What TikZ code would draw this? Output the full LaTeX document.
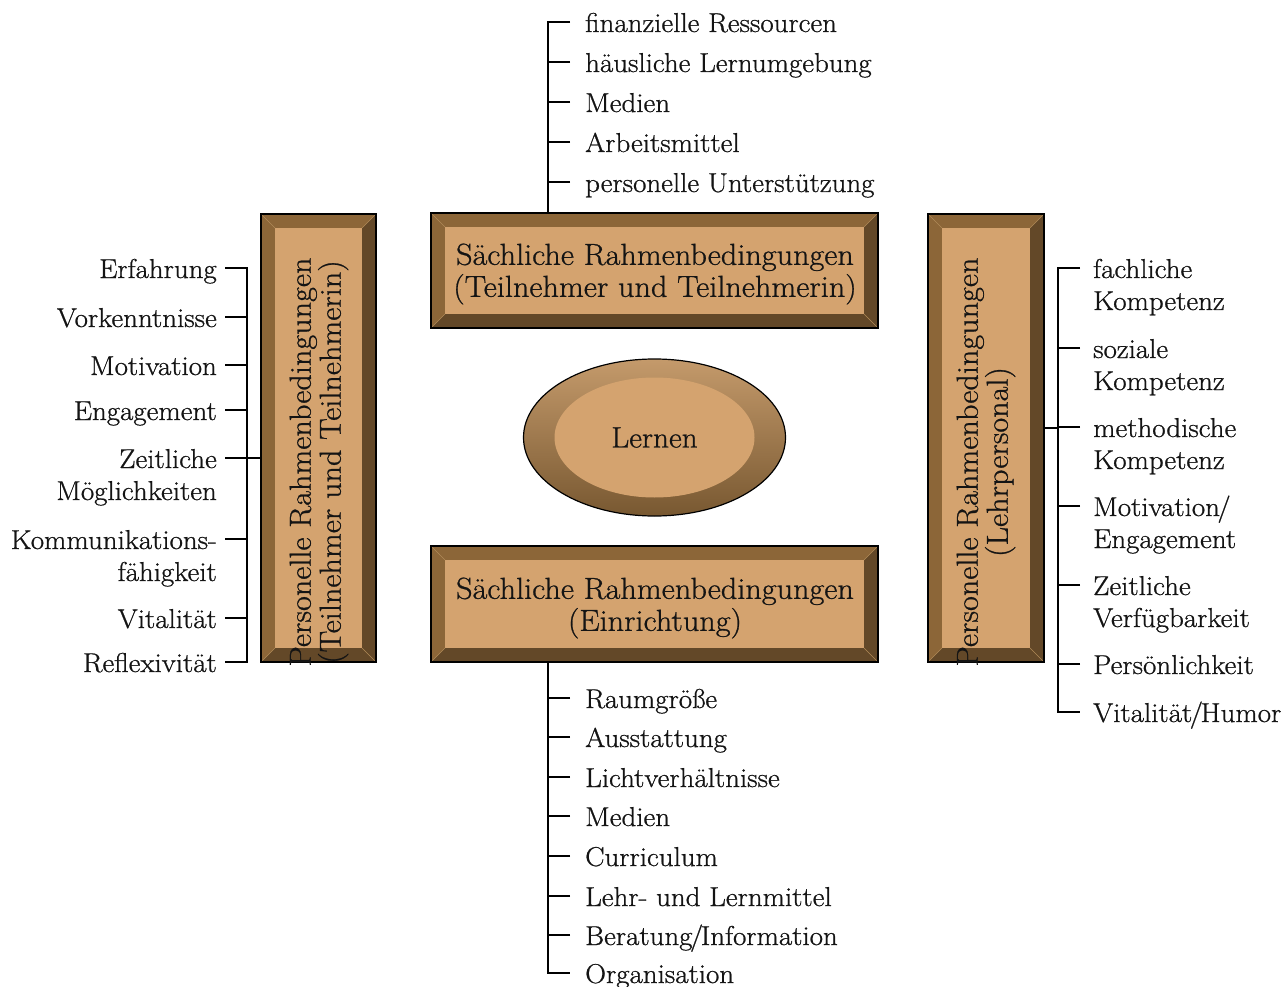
\documentclass[tikz,border=0pt]{standalone}
\usepackage{fontspec}
\setmainfont{Latin Modern Roman}[FakeStretch=1.06, FakeBold=0.8]
\usetikzlibrary{shapes.geometric}

\definecolor{boxface}{HTML}{D4A36F}
\definecolor{bevlight}{HTML}{8C6638}
\definecolor{bevdark}{HTML}{634828}
\definecolor{bevline}{HTML}{B08A58}
\definecolor{elltop}{HTML}{C49A6B}
\definecolor{ellbot}{HTML}{785831}
\definecolor{ink}{HTML}{141414}

% tight slash between words
\newcommand{\tsl}{\kern-2.5pt/\kern-2.5pt}

\tikzset{
  bevel/.style={rectangle, draw=black, line width=1.3pt, fill=bevlight,
    inner sep=0pt,
    path picture={
      \fill[bevdark] (path picture bounding box.south west)
        -- (path picture bounding box.south east)
        -- (path picture bounding box.north east)
        -- ([shift={(-14pt,-14pt)}]path picture bounding box.north east)
        -- ([shift={(-14pt,14pt)}]path picture bounding box.south east)
        -- ([shift={(14pt,14pt)}]path picture bounding box.south west) -- cycle;
      \fill[boxface] ([shift={(14pt,14pt)}]path picture bounding box.south west)
        rectangle ([shift={(-14pt,-14pt)}]path picture bounding box.north east);
      \draw[bevline, line width=0.5pt]
        (path picture bounding box.north west) -- ++(14pt,-14pt)
        (path picture bounding box.north east) -- ++(-14pt,-14pt)
        (path picture bounding box.south west) -- ++(14pt,14pt)
        (path picture bounding box.south east) -- ++(-14pt,14pt);
    }},
  htitle/.style={align=center, inner sep=0pt, text=ink,
    font=\fontsize{30.4}{32}\selectfont},
  vtitle/.style={htitle, rotate=90, font=\fontsize{30.4}{30}\selectfont},
  item/.style={inner sep=0pt, text=ink, font=\fontsize{27.3}{32}\selectfont},
  conn/.style={draw=black, line width=1.3pt}
}

\begin{document}
\begin{tikzpicture}[x=1pt, y=-1pt]
\useasboundingbox (0,0) rectangle (1285,987);

% --- central ellipse ---
\node[ellipse, draw=black, line width=1.2pt, minimum width=262, minimum height=157,
      top color=elltop, bottom color=ellbot, inner sep=0pt,
      path picture={\fill[boxface] (path picture bounding box.center)
        ellipse [x radius=100pt, y radius=60pt];}] (lern) at (654.5,437.5) {};
\node[item, font=\fontsize{29.5}{32}\selectfont] (lernT) at (lern.center) {Lernen};

% --- bevelled boxes ---
\node[bevel, minimum width=447, minimum height=115] (sTop) at (654.5,270.5) {};
\node[bevel, minimum width=447, minimum height=116] (sBot) at (654.5,604) {};
\node[bevel, minimum width=115, minimum height=448] (pLeft) at (318.5,438) {};
\node[bevel, minimum width=116, minimum height=448] (pRight) at (986,438) {};

\node[htitle] (sTopT) at (655,274)
  {Sächliche Rahmenbedingungen\\(Teilnehmer und Teilnehmerin)};
\node[htitle] (sBotT) at (655,608)
  {Sächliche Rahmenbedingungen\\(Einrichtung)};
\node[vtitle] (pLeftT) at (319,462)
  {Personelle Rahmenbedingungen\\(Teilnehmer und Teilnehmerin)};
\node[vtitle] (pRightT) at (986,462)
  {Personelle Rahmenbedingungen\\(Lehrpersonal)};

% --- top list ---
\coordinate (busT) at (548,0);
\node[item, anchor=base west] (a1) at (585,32)  {finanzielle Ressourcen};
\node[item, anchor=base west] (a2) at (585,72)  {häusliche Lernumgebung};
\node[item, anchor=base west] (a3) at (585,112) {Medien};
\node[item, anchor=base west] (a4) at (585,152) {Arbeitsmittel};
\node[item, anchor=base west] (a5) at (585,192) {personelle Unterstützung};
\draw[conn] ([shift={(-15pt,10pt)}]a1.base west) -| (sTop.north -| busT);
\foreach \n in {a2,a3,a4,a5}
  \draw[conn] ([shift={(-15pt,10pt)}]\n.base west) -- ++(-22,0);

% --- bottom list ---
\node[item, anchor=base west] (b1) at (585,708) {Raumgröße};
\node[item, anchor=base west] (b2) at (585,747) {Ausstattung};
\node[item, anchor=base west] (b3) at (585,787) {Lichtverhältnisse};
\node[item, anchor=base west] (b4) at (585,826) {Medien};
\node[item, anchor=base west] (b5) at (585,866) {Curriculum};
\node[item, anchor=base west] (b6) at (585,906) {Lehr- und Lernmittel};
\node[item, anchor=base west] (b7) at (585,945) {Beratung\tsl Information};
\node[item, anchor=base west] (b8) at (585,983) {Organisation};
\draw[conn] (sBot.south -| busT) |- ([shift={(-15pt,10pt)}]b8.base west);
\foreach \n in {b1,b2,b3,b4,b5,b6,b7}
  \draw[conn] ([shift={(-15pt,10pt)}]\n.base west) -- ++(-22,0);

% --- left list ---
\node[item, anchor=base east] (l1) at (217,278) {Erfahrung};
\node[item, anchor=base east] (l2) at (217,327) {Vorkenntnisse};
\node[item, anchor=base east] (l3) at (217,375) {Motivation};
\node[item, anchor=base east] (l4) at (217,420) {Engagement};
\node[item, anchor=base east] (l5) at (217,468)
  {\begin{tabular}[t]{@{}r@{}}Zeitliche\\Möglichkeiten\end{tabular}};
\node[item, anchor=base east] (l6) at (217,549)
  {\begin{tabular}[t]{@{}r@{}}Kommunikations-\\fähigkeit\end{tabular}};
\node[item, anchor=base east] (l7) at (217,628) {Vitalität};
\node[item, anchor=base east] (l8) at (217,672) {Reflexivität};
\draw[conn] ([shift={(8pt,10pt)}]l1.base east) -- ++(22,0)
  |- ([shift={(8pt,10pt)}]l8.base east);
\foreach \n in {l2,l3,l4,l5,l6,l7}
  \draw[conn] ([shift={(8pt,10pt)}]\n.base east) -- ++(22,0);
\coordinate (l5t) at ([shift={(8pt,10pt)}]l5.base east);
\draw[conn] (l5t) -- (l5t -| pLeft.west);

% --- right list ---
\node[item, anchor=base west] (r1) at (1093,278)
  {\begin{tabular}[t]{@{}l@{}}fachliche\\Kompetenz\end{tabular}};
\node[item, anchor=base west] (r2) at (1093,358)
  {\begin{tabular}[t]{@{}l@{}}soziale\\Kompetenz\end{tabular}};
\node[item, anchor=base west] (r3) at (1093,437)
  {\begin{tabular}[t]{@{}l@{}}methodische\\Kompetenz\end{tabular}};
\node[item, anchor=base west] (r4) at (1093,516)
  {\begin{tabular}[t]{@{}l@{}}Motivation\kern-2.5pt/\\Engagement\end{tabular}};
\node[item, anchor=base west] (r5) at (1093,595)
  {\begin{tabular}[t]{@{}l@{}}Zeitliche\\Verfügbarkeit\end{tabular}};
\node[item, anchor=base west] (r6) at (1093,674) {Persönlichkeit};
\node[item, anchor=base west] (r7) at (1093,722) {Vitalität\tsl Humor};
\draw[conn] ([shift={(-13pt,10pt)}]r1.base west) -- ++(-22,0)
  |- ([shift={(-13pt,10pt)}]r7.base west);
\foreach \n in {r2,r3,r4,r5,r6}
  \draw[conn] ([shift={(-13pt,10pt)}]\n.base west) -- ++(-22,0);
\coordinate (r3t) at ([shift={(-35pt,9pt)}]r3.base west);
\draw[conn] (pRight.east |- r3t) -- (r3t);
\end{tikzpicture}
\end{document}
